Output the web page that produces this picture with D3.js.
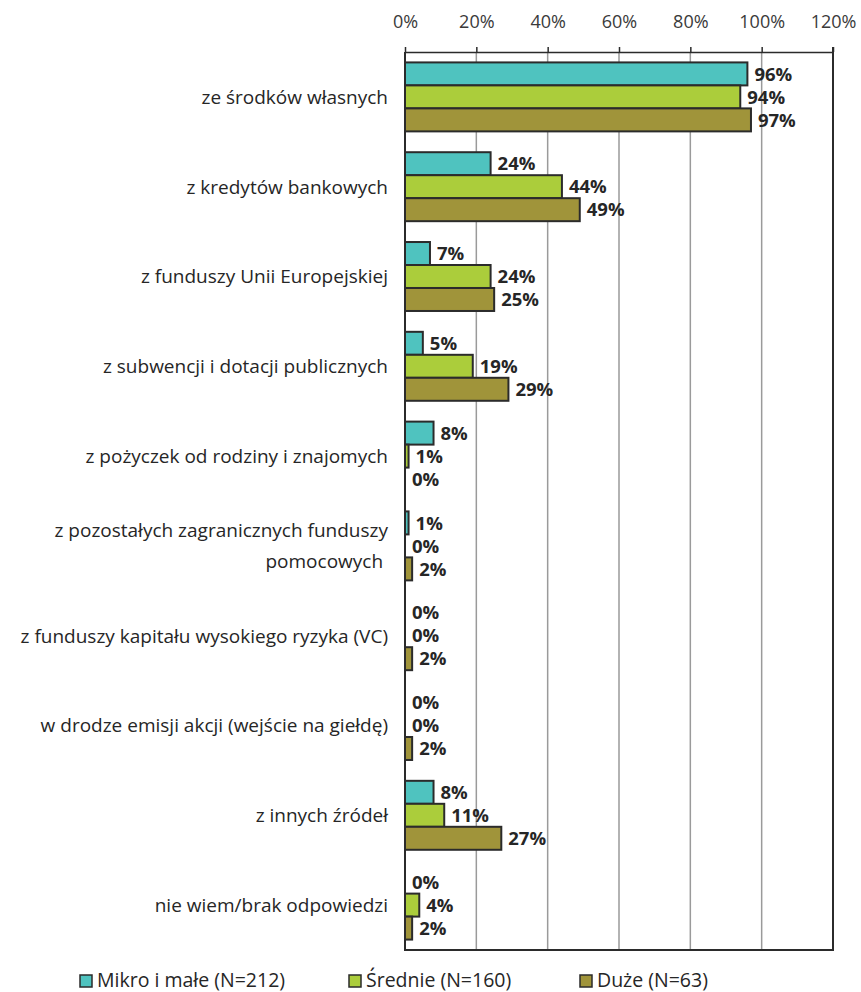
<!DOCTYPE html>
<html>
<head>
<meta charset="utf-8">
<script src="https://cdn.jsdelivr.net/npm/d3@7"></script>
<style>
  html, body { margin: 0; padding: 0; background: #fff; }
  svg { display: block; font-family: "Open Sans", "Noto Sans", sans-serif; }
</style>
</head>
<body>
<svg id="chart" width="861" height="992"></svg>
<script>
// Source categories (multi-line labels split by "\n")
const categories = [
  "ze środków własnych",
  "z kredytów bankowych",
  "z funduszy Unii Europejskiej",
  "z subwencji i dotacji publicznych",
  "z pożyczek od rodziny i znajomych",
  "z pozostałych zagranicznych funduszy\npomocowych ",
  "z funduszy kapitału wysokiego ryzyka (VC)",
  "w drodze emisji akcji (wejście na giełdę)",
  "z innych źródeł",
  "nie wiem/brak odpowiedzi"
];
const seriesNames = ["Mikro i małe (N=212)", "Średnie (N=160)", "Duże (N=63)"];
const mikro   = [96, 24, 7, 5, 8, 1, 0, 0, 8, 0];
const srednie = [94, 44, 24, 19, 1, 0, 0, 0, 11, 4];
const duze    = [97, 49, 25, 29, 0, 2, 2, 2, 27, 2];
const tickValues = [0, 20, 40, 60, 80, 100, 120];
const seriesColors = ["#4fc3bf", "#abcd3b", "#a0943a"];

const series = [mikro, srednie, duze];

const svg = d3.select("#chart");
const plotLeft = 405, plotRight = 833, plotTop = 52, plotBottom = 950;

const x = d3.scaleLinear().domain([0, 120]).range([plotLeft, plotRight]);
const y = d3.scaleBand().domain(d3.range(categories.length)).range([plotTop, plotBottom]).paddingInner(0.232).paddingOuter(0.116);
const inner = d3.scaleBand().domain(d3.range(series.length)).range([0, y.bandwidth()]);

// vertical gridlines
svg.append("g").selectAll("line").data(tickValues.slice(1, -1)).join("line")
  .attr("x1", d => x(d)).attr("x2", d => x(d))
  .attr("y1", plotTop).attr("y2", plotBottom)
  .attr("stroke", "#9a9a9a").attr("stroke-width", 1.5);

// top axis
const axis = d3.axisTop(x).tickValues(tickValues).tickFormat(d => d + "%").tickSize(5).tickSizeOuter(0);
const gAxis = svg.append("g").attr("transform", `translate(0,${plotTop})`).call(axis);
gAxis.select(".domain").attr("stroke", "#2b2b2b").attr("stroke-width", 1.5);
gAxis.selectAll(".tick line").attr("stroke", "#2b2b2b").attr("stroke-width", 1.5);
gAxis.selectAll(".tick text")
  .attr("font-family", "'Open Sans', sans-serif")
  .attr("font-size", 18).attr("fill", "#3a3a3a").attr("y", -24);

// plot frame: left, right, bottom
svg.append("path")
  .attr("d", `M${plotLeft},${plotTop}V${plotBottom}H${plotRight}V${plotTop - 5}`)
  .attr("fill", "none").attr("stroke", "#2b2b2b").attr("stroke-width", 2);

// bars
const rows = [];
categories.forEach((c, i) => series.forEach((s, j) => rows.push({ i, j, v: s[i] })));

svg.append("g").selectAll("rect").data(rows.filter(d => d.v > 0)).join("rect")
  .attr("x", x(0))
  .attr("y", d => y(d.i) + inner(d.j))
  .attr("width", d => x(d.v) - x(0))
  .attr("height", inner.bandwidth())
  .attr("fill", d => seriesColors[d.j])
  .attr("stroke", "#2b2b2b").attr("stroke-width", 2);

// value labels
svg.append("g").selectAll("text").data(rows).join("text")
  .attr("x", d => x(d.v) + 7)
  .attr("y", d => y(d.i) + inner(d.j) + inner.bandwidth() / 2)
  .attr("dy", "0.36em")
  .attr("font-size", 18.5).attr("font-weight", "bold").attr("fill", "#262626")
  .text(d => d.v + "%");

// category labels
const catG = svg.append("g").selectAll("text").data(categories).join("text")
  .attr("text-anchor", "end")
  .attr("font-size", 19).attr("fill", "#262626")
  .attr("transform", (d, i) => `translate(388,${y(i) + y.bandwidth() / 2})`);
catG.each(function (d) {
  const lines = d.split("\n");
  const t = d3.select(this);
  const lh = 31;
  lines.forEach((ln, k) => {
    t.append("tspan").attr("x", 0)
      .attr("y", (k - (lines.length - 1) / 2) * lh)
      .attr("dy", "0.36em")
      .attr("xml:space", "preserve")
      .text(ln);
  });
});

// legend
const legendX = [80, 349, 580];
const lg = svg.append("g").selectAll("g").data(seriesNames).join("g")
  .attr("transform", (d, i) => `translate(${legendX[i]},980)`);
lg.append("rect").attr("x", 0).attr("y", -5).attr("width", 12).attr("height", 12)
  .attr("fill", (d, i) => seriesColors[i]).attr("stroke", "#2b2b2b").attr("stroke-width", 1.5);
lg.append("text").attr("x", 17).attr("y", 0).attr("dy", "0.36em")
  .attr("font-size", 19.5).attr("fill", "#262626").text(d => d);
</script>
</body>
</html>
